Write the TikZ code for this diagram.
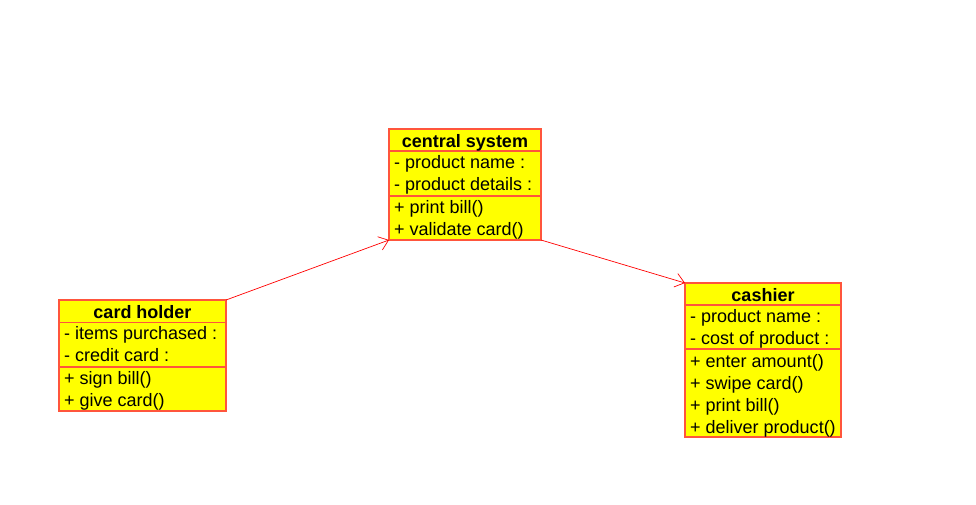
\documentclass[tikz,border=0pt]{standalone}
\usepackage{fontspec}
\setmainfont{Liberation Sans}
\usetikzlibrary{arrows.meta}
\definecolor{boxborder}{RGB}{255,85,60}
\definecolor{boxfill}{RGB}{255,255,0}
\definecolor{linkred}{RGB}{255,0,0}
\tikzset{
  umlbox/.style={draw=boxborder, fill=boxfill, line width=1.2pt},
  divider/.style={draw=boxborder, line width=1.2pt},
  member/.style={anchor=base west, inner sep=0pt, font=\fontsize{18}{20}\selectfont},
  title/.style={anchor=base, inner sep=0pt, font=\bfseries\fontsize{18}{20}\selectfont},
  link/.style={draw=linkred, line width=0.7pt, -{Straight Barb[length=9pt,width=14pt,line width=0.7pt]}}
}
\begin{document}
\begin{tikzpicture}[x=1pt,y=-1pt]
\useasboundingbox (0,0) rectangle (976,504);
% central system
\draw[umlbox] (389,129) rectangle (541,240);
\coordinate (cssw) at (389,240);
\coordinate (csse) at (541,240);
\draw[divider] (389,151) -- (541,151);
\draw[divider] (389,196) -- (541,196);
\node[title] (cst) at (465,147) {central system};
\node[member] (csa1) at (394,168.5) {- product name :};
\node[member] (csa2) at (394,190.5) {- product details :};
\node[member] (csm1) at (394,213) {+ print bill()};
\node[member] (csm2) at (394,235) {+ validate card()};
% card holder
\draw[umlbox] (59,300) rectangle (226,411);
\coordinate (chne) at (226,300);
\draw[divider] (59,322.5) -- (226,322.5);
\draw[divider] (59,367) -- (226,367);
\node[title] (cht) at (142.5,318) {card holder};
\node[member] (cha1) at (64,339.5) {- items purchased :};
\node[member] (cha2) at (64,361.5) {- credit card :};
\node[member] (chm1) at (64,384) {+ sign bill()};
\node[member] (chm2) at (64,406) {+ give card()};
% cashier
\draw[umlbox] (685,283) rectangle (841,437);
\coordinate (canw) at (685,283);
\draw[divider] (685,305) -- (841,305);
\draw[divider] (685,349) -- (841,349);
\node[title] (cat) at (763,301) {cashier};
\node[member] (caa1) at (690,322.5) {- product name :};
\node[member] (caa2) at (690,344.5) {- cost of product :};
\node[member] (cam1) at (690,367) {+ enter amount()};
\node[member] (cam2) at (690,389) {+ swipe card()};
\node[member] (cam3) at (690,411) {+ print bill()};
\node[member] (cam4) at (690,433) {+ deliver product()};
% connectors
\draw[link] (chne) -- (cssw);
\draw[link] (csse) -- (canw);
\end{tikzpicture}
\end{document}
